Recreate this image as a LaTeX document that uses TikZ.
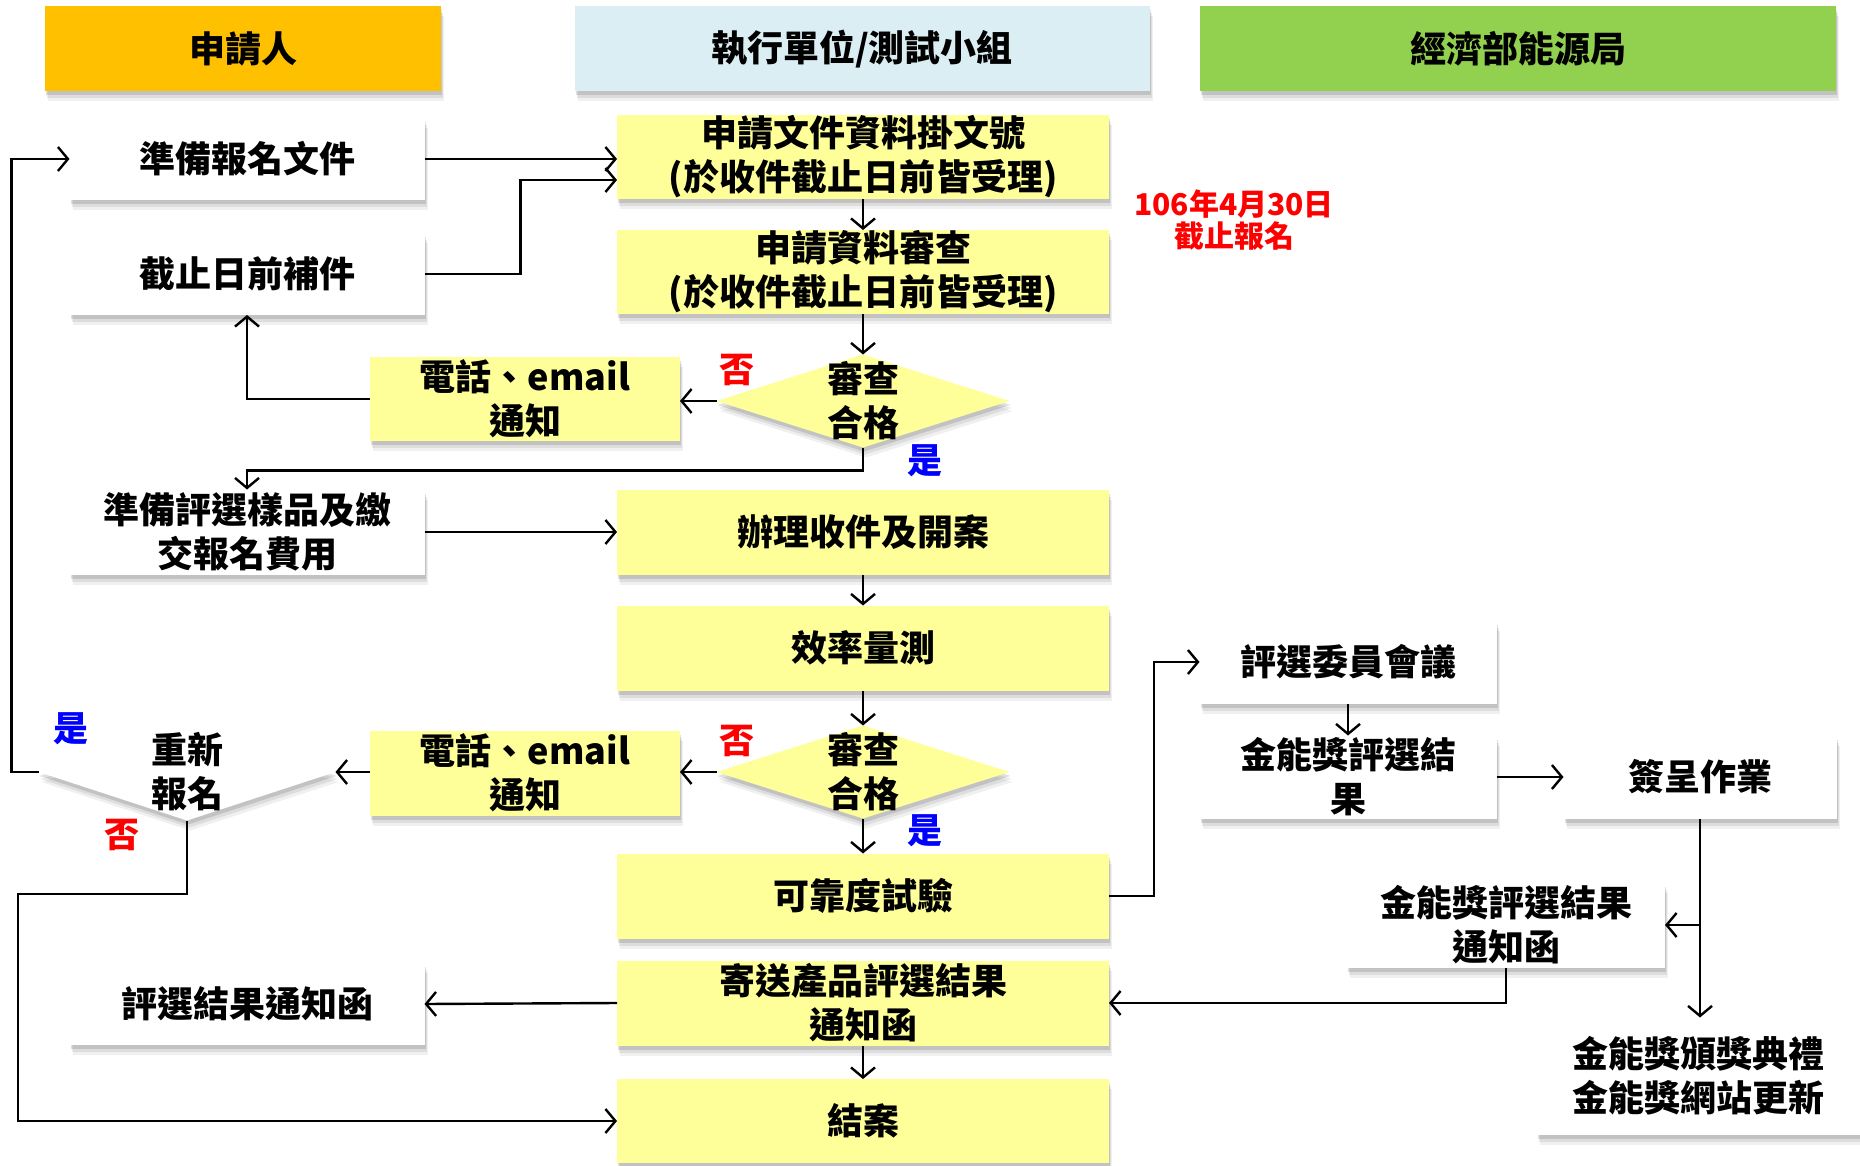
\documentclass[tikz,border=0pt]{standalone}
\usepackage{fontspec}
\setmainfont{Noto Sans CJK TC}
\usetikzlibrary{arrows.meta,shapes.geometric,shadows,calc}
\definecolor{hdrA}{HTML}{FFC000}
\definecolor{hdrB}{HTML}{DAEEF3}
\definecolor{hdrC}{HTML}{92D050}
\definecolor{yboxc}{HTML}{FFFF99}
\begin{document}
\begin{tikzpicture}[x=1pt,y=-1pt,
  font=\bfseries\fontsize{36}{44}\selectfont,
  every node/.style={outer sep=0pt, inner sep=0pt, align=center},
  shad/.style={
    drop shadow={shadow xshift=3pt, shadow yshift=-10pt, fill=black, opacity=0.06},
    drop shadow={shadow xshift=2pt, shadow yshift=-7pt, fill=black, opacity=0.08},
    drop shadow={shadow xshift=1pt, shadow yshift=-4pt, fill=black, opacity=0.12}},
  hdr/.style={minimum height=85pt, shad},
  ybox/.style={fill=yboxc, minimum width=492pt, minimum height=84pt, shad},
  wbox/.style={fill=white, minimum height=82pt, shad},
  dia/.style={diamond, fill=yboxc, minimum width=293pt, minimum height=93pt, shad},
  arr/.style={-{Straight Barb[length=10pt,width=24pt,line width=2.4pt]}, line width=2.4pt},
  nolab/.style={text=red, font=\bfseries\fontsize{35}{35}\selectfont},
  yeslab/.style={text=blue, font=\bfseries\fontsize{35}{35}\selectfont}
]
\useasboundingbox (0,0) rectangle (1860,1166);

% headers
\node[hdr, fill=hdrA, minimum width=396pt] (h1) at (243,49) {申請人};
\node[hdr, fill=hdrB, minimum width=575pt] (h2) at (862,49) {執行單位/測試小組};
\node[hdr, fill=hdrC, minimum width=636pt] (h3) at (1518,49) {經濟部能源局};

% left column
\node[wbox, minimum width=355pt] (l1) at (247,159) {準備報名文件};
\node[wbox, minimum width=355pt] (l2) at (247,274) {截止日前補件};
\node[wbox, minimum width=355pt, minimum height=85pt] (l3) at (247,532) {準備評選樣品及繳\\交報名費用};
\node[wbox, minimum width=355pt] (l4) at (247,1004) {評選結果通知函};

% middle column
\node[ybox] (m1) at (863,157) {申請文件資料掛文號\\(於收件截止日前皆受理)};
\node[ybox] (m2) at (863,272) {申請資料審查\\(於收件截止日前皆受理)};
\node[dia, label={[align=center]center:審查\\合格}] (d1) at (863,401) {};
\node[ybox, minimum width=310pt] (p1) at (525,399) {電話、email\\通知};
\node[ybox, minimum height=85pt] (m3) at (863,532) {辦理收件及開案};
\node[ybox, minimum height=85pt] (m4) at (863,648) {效率量測};
\node[dia, label={[align=center]center:審查\\合格}] (d2) at (863,772) {};
\node[ybox, minimum width=310pt, minimum height=85pt] (p2) at (525,773) {電話、email\\通知};
\node[dia, fill=white, minimum width=297pt, minimum height=97pt,
      label={[align=center]center:重新\\報名}] (d3) at (187,772) {};
\node[ybox, minimum height=85pt] (m5) at (863,896) {可靠度試驗};
\node[ybox, minimum height=85pt] (m6) at (863,1003) {寄送產品評選結果\\通知函};
\node[ybox, minimum height=84pt] (m7) at (863,1121) {結案};

% right column
\node[wbox, minimum width=297pt, minimum height=83pt] (r1) at (1348,662) {評選委員會議};
\node[wbox, minimum width=297pt, minimum height=83pt] (r2) at (1348,777) {金能獎評選結\\果};
\node[wbox, minimum width=273pt, minimum height=83pt] (r3) at (1700,777) {簽呈作業};
\node[wbox, minimum width=318pt, minimum height=85pt] (r4) at (1506,925) {金能獎評選結果\\通知函};
\node[wbox, minimum width=323pt, minimum height=117pt] (r5) at (1698,1076) {金能獎頒獎典禮\\金能獎網站更新};

% note
\node[text=red, font=\bfseries\fontsize{30}{32}\selectfont] (note) at (1234,220) {106年4月30日\\截止報名};

% yes/no labels
\node[nolab] (n1) at (737,370) {否};
\node[yeslab] (y1) at (925,461) {是};
\node[nolab] (n2) at (737,741) {否};
\node[yeslab] (y2) at (925,831) {是};
\node[yeslab] (y3) at (71,729) {是};
\node[nolab] (n3) at (122,835) {否};

% connectors
\coordinate (c1) at (18,894);
\draw[arr] (l1.east) -- (l1.east -| m1.west);
\draw[arr] (l2.east) -- ++(96,0) |- ($(m1.west)+(0,23)$);
\draw[arr] (m1.south) -- (m2.north);
\draw[arr] (m2.south) -- (d1.north);
\draw[arr] (d1.west) -- (p1.east |- d1.west);
\draw[arr] (p1.west) -| (l2.south);
\draw[arr] (d1.south) -- ++(0,23) -| (l3.north);
\draw[arr] (l3.east) -- (m3.west);
\draw[arr] (m3.south) -- (m4.north);
\draw[arr] (m4.south) -- (d2.north);
\draw[arr] (d2.west) -- (p2.east |- d2.west);
\draw[arr] (p2.west |- d3.east) -- (d3.east);
\draw[arr] (d3.west) -- ++(-27,0) |- (l1.west);
\draw[arr] (d3.south) |- (c1) |- (m7.west);
\draw[arr] (d2.south) -- (m5.north);
\draw[arr] (m5.east) -- ++(45,0) |- (r1.west);
\draw[arr] (r1.south) -- (r2.north);
\draw[arr] (r2.east) -- (r3.west);
\draw[arr] (r3.south) -- (r3.south |- r5.north);
\draw[arr] (r3.south |- r4.east) -- (r4.east);
\draw[arr] (r4.south) |- (m6.east);
\draw[arr] (m6.west) -- (l4.east);
\draw[arr] (m6.south) -- (m7.north);
\end{tikzpicture}
\end{document}
